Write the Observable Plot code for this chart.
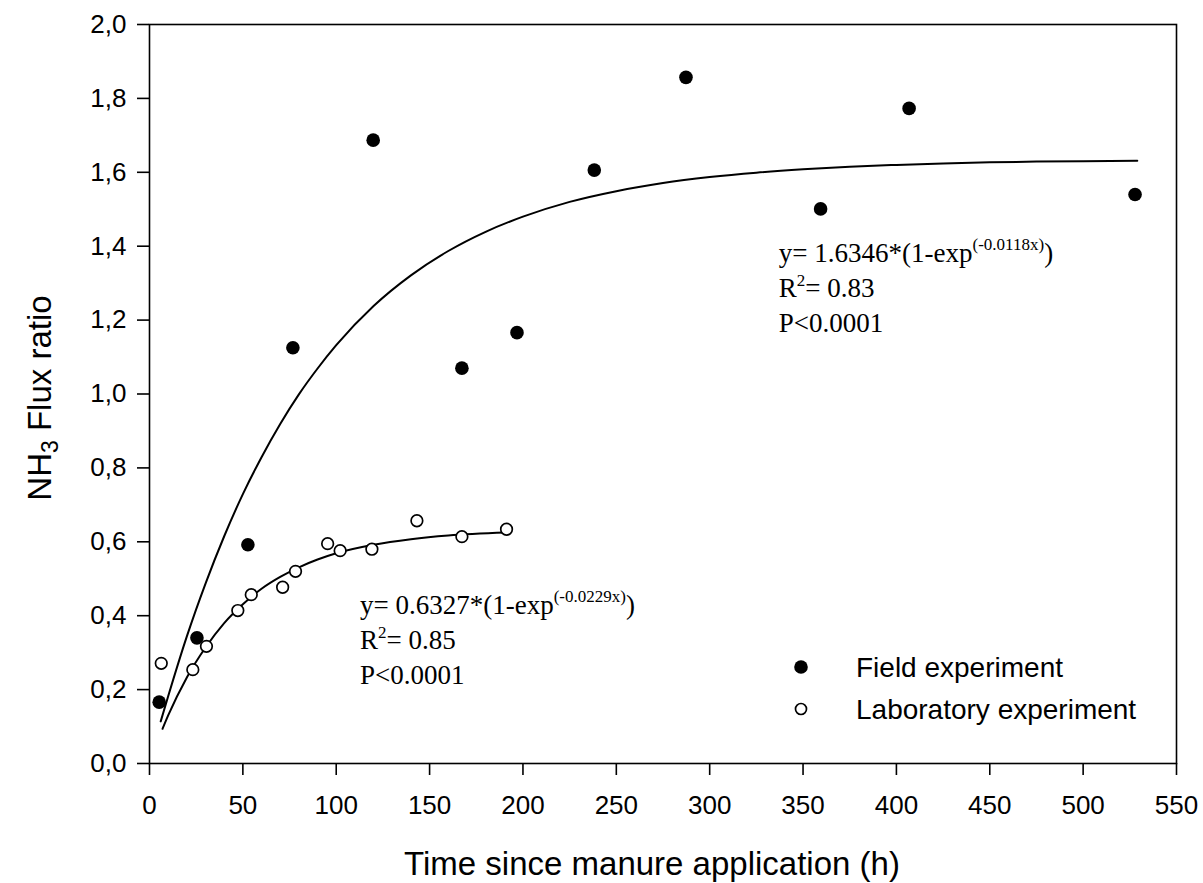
<!DOCTYPE html>
<html><head><meta charset="utf-8">
<script src="https://cdn.jsdelivr.net/npm/d3@7"></script>
<script src="https://cdn.jsdelivr.net/npm/@observablehq/plot@0.6"></script>
<style>body{margin:0;background:#fff} svg{display:block}</style>
</head><body><div id="chart"></div>
<script>
// Field experiment (filled dots)
const fieldTime  = [5.2, 25.4, 52.7, 76.8, 119.8, 167.3, 196.8, 238.2, 287.3, 359.4, 406.8, 527.8];
const fieldRatio = [0.166, 0.340, 0.592, 1.125, 1.687, 1.070, 1.166, 1.606, 1.857, 1.501, 1.773, 1.540];
// Laboratory experiment (open circles)
const labTime  = [6.3, 23.2, 30.5, 47.3, 54.5, 71.3, 78.2, 95.4, 102.1, 119.1, 143.2, 167.3, 191.2];
const labRatio = [0.271, 0.254, 0.317, 0.414, 0.457, 0.477, 0.520, 0.595, 0.576, 0.580, 0.657, 0.614, 0.634];
// Fitted curves
const fieldFitTime  = [6, 10, 20, 30, 40, 50, 60, 70, 80, 90, 100, 120, 140, 160, 180, 200, 225, 250, 275, 300, 325, 350, 375, 400, 425, 450, 475, 500, 529];
const fieldFitRatio = [0.114, 0.182, 0.344, 0.487, 0.615, 0.729, 0.829, 0.919, 0.999, 1.069, 1.132, 1.238, 1.321, 1.387, 1.439, 1.480, 1.520, 1.549, 1.571, 1.587, 1.599, 1.608, 1.615, 1.620, 1.624, 1.627, 1.629, 1.630, 1.631];
const labFitTime  = [7, 10, 20, 30, 40, 50, 60, 70, 80, 90, 100, 120, 140, 160, 191];
const labFitRatio = [0.094, 0.130, 0.233, 0.314, 0.380, 0.431, 0.473, 0.505, 0.531, 0.552, 0.569, 0.592, 0.607, 0.617, 0.625];
// Axes
const xTicks = [0, 50, 100, 150, 200, 250, 300, 350, 400, 450, 500, 550];
const yTicks = [0, 0.2, 0.4, 0.6, 0.8, 1.0, 1.2, 1.4, 1.6, 1.8, 2.0];
const yTickLabels = ["0,0", "0,2", "0,4", "0,6", "0,8", "1,0", "1,2", "1,4", "1,6", "1,8", "2,0"];
const xTitle = "Time since manure application (h)";
const yTitleMain = "NH", yTitleSub = "3", yTitleRest = " Flux ratio";
const legendLabels = ["Field experiment", "Laboratory experiment"];
// Annotations
const fieldEq = ["y= 1.6346*(1-exp", "(-0.0118x)", ")"];
const fieldR2 = "0.83";
const labEq = ["y= 0.6327*(1-exp", "(-0.0229x)", ")"];
const labR2 = "0.85";
const pText = "P<0.0001";

const field = fieldTime.map((t, i) => ({t, v: fieldRatio[i]}));
const lab = labTime.map((t, i) => ({t, v: labRatio[i]}));
const fieldFit = fieldFitTime.map((t, i) => ({t, v: fieldFitRatio[i]}));
const labFit = labFitTime.map((t, i) => ({t, v: labFitRatio[i]}));

const sans = "'Liberation Sans', Arial, Helvetica, sans-serif";
const serif = "'Liberation Serif', 'Times New Roman', serif";

const plot = Plot.plot({
  width: 1203, height: 883,
  marginLeft: 149, marginRight: 27, marginTop: 24, marginBottom: 120,
  style: {fontFamily: sans, fontSize: "26px", background: "#fff", color: "#000", overflow: "visible"},
  x: {domain: [0, 550]},
  y: {domain: [0, 2]},
  marks: [
    Plot.frame({stroke: "#000", strokeWidth: 1.6}),
    Plot.axisX({ticks: xTicks, tickSize: 12, tickPadding: 20, label: null, strokeWidth: 1.6, fontSize: 26}),
    Plot.axisY({ticks: yTicks, tickSize: 12, tickPadding: 11, label: null, strokeWidth: 1.6, fontSize: 26,
      tickFormat: d => yTickLabels[yTicks.findIndex(v => Math.abs(v - d) < 1e-9)]}),
    Plot.line(fieldFit, {x: "t", y: "v", curve: "monotone-x", stroke: "#000", strokeWidth: 2}),
    Plot.line(labFit, {x: "t", y: "v", curve: "monotone-x", stroke: "#000", strokeWidth: 2}),
    Plot.dot(field, {x: "t", y: "v", r: 6.8, fill: "#000", stroke: "none"}),
    Plot.dot(lab, {x: "t", y: "v", r: 5.8, fill: "#fff", stroke: "#000", strokeWidth: 1.7})
  ]
});
document.getElementById("chart").appendChild(plot);

const svg = d3.select(plot);
const sx = plot.scale("x"), sy = plot.scale("y");

// Axis titles
svg.append("text").attr("x", 652).attr("y", 875).attr("text-anchor", "middle")
  .attr("font-family", sans).attr("font-size", 33).attr("fill", "#000").text(xTitle);
const yt = svg.append("text").attr("transform", "translate(51,398) rotate(-90)")
  .attr("text-anchor", "middle").attr("font-family", sans).attr("font-size", 33).attr("fill", "#000");
yt.append("tspan").text(yTitleMain);
yt.append("tspan").attr("font-size", 23).attr("dy", 7).text(yTitleSub);
yt.append("tspan").attr("dy", -7).text(yTitleRest);

// Equation blocks
function eqBlock(x0, y0, eq, r2) {
  const g = svg.append("g").attr("font-family", serif).attr("font-size", 27).attr("fill", "#000").attr("text-anchor", "start");
  const t1 = g.append("text").attr("x", x0).attr("y", y0);
  t1.append("tspan").text(eq[0]);
  t1.append("tspan").attr("font-size", 17).attr("dy", -12).text(eq[1]);
  t1.append("tspan").attr("dy", 12).text(eq[2]);
  const t2 = g.append("text").attr("x", x0).attr("y", y0 + 35);
  t2.append("tspan").text("R");
  t2.append("tspan").attr("font-size", 17).attr("dy", -11).text("2");
  t2.append("tspan").attr("dy", 11).text("= " + r2);
  g.append("text").attr("x", x0).attr("y", y0 + 70).text(pText);
}
eqBlock(sx.apply(337.3), sy.apply(1.356), fieldEq, fieldR2);
eqBlock(sx.apply(113.0), sy.apply(0.402), labEq, labR2);

// Legend
const lg = svg.append("g").attr("font-family", sans).attr("font-size", 28).attr("fill", "#000").attr("text-anchor", "start");
lg.append("circle").attr("cx", 801).attr("cy", 667).attr("r", 6.8).attr("fill", "#000");
lg.append("circle").attr("cx", 801).attr("cy", 709).attr("r", 5.5).attr("fill", "#fff").attr("stroke", "#000").attr("stroke-width", 1.7);
lg.append("text").attr("x", 856).attr("y", 677).text(legendLabels[0]);
lg.append("text").attr("x", 856).attr("y", 719).text(legendLabels[1]);
</script></body></html>
